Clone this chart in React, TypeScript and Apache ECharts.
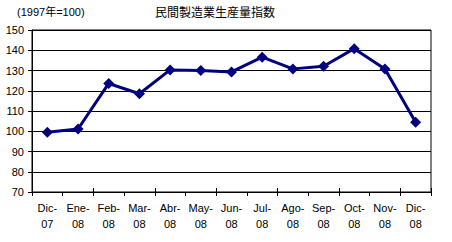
import React, { useEffect, useRef } from "react";
import * as echarts from "echarts";

const categories = ["Dic-\n07", "Ene-\n08", "Feb-\n08", "Mar-\n08", "Abr-\n08", "May-\n08", "Jun-\n08", "Jul-\n08", "Ago-\n08", "Sep-\n08", "Oct-\n08", "Nov-\n08", "Dic-\n08"];
const values = [99.5, 101.1, 123.6, 118.5, 130.3, 130.0, 129.3, 136.6, 130.8, 132.1, 140.8, 130.8, 104.4];
const yMin = 70;
const yMax = 150;
const yStep = 10;
const titleText = "民間製造業生産量指数";
const unitText = "(1997年=100)";

const FONT = "'Liberation Sans', Arial, 'Noto Sans CJK JP', sans-serif";

export default function App() {
  const ref = useRef<HTMLDivElement>(null);
  useEffect(() => {
    if (!ref.current) return;
    const chart = echarts.init(ref.current, undefined, { renderer: "svg" });
    chart.setOption({
      animation: false,
      backgroundColor: "#ffffff",
      textStyle: { fontFamily: FONT },
      grid: {
        left: 32,
        right: 21,
        top: 30,
        bottom: 50,
        show: true,
        borderColor: "#000000",
        borderWidth: 1,
        backgroundColor: "transparent",
      },
      graphic: [
        {
          type: "text",
          left: 17,
          top: 6,
          style: { text: unitText, fontSize: 11, fontFamily: FONT, fill: "#000" },
        },
        {
          type: "text",
          x: 215,
          y: 7,
          style: { text: titleText, fontSize: 12, fontFamily: FONT, fill: "#000", textAlign: "center" },
        },
      ],
      xAxis: [
        {
          type: "category",
          data: categories,
          boundaryGap: true,
          position: "bottom",
          axisLine: { show: true, lineStyle: { color: "#000", width: 1 } },
          axisTick: { show: true, length: 4, lineStyle: { color: "#000" } },
          axisLabel: { color: "#000", fontSize: 11, lineHeight: 16, margin: 8, interval: 0, fontFamily: FONT },
          splitLine: { show: false },
        },
        {
          type: "category",
          data: categories,
          boundaryGap: true,
          position: "bottom",
          axisLine: { show: false },
          axisTick: { show: true, inside: true, length: 4, lineStyle: { color: "#000" } },
          axisLabel: { show: false },
          splitLine: { show: false },
        },
      ],
      yAxis: {
        type: "value",
        min: yMin,
        max: yMax,
        interval: yStep,
        axisLine: { show: true, lineStyle: { color: "#000", width: 1 } },
        axisTick: { show: true, length: 4, lineStyle: { color: "#000" } },
        axisLabel: { color: "#000", fontSize: 11, margin: 8, fontFamily: FONT },
        splitLine: { show: true, lineStyle: { color: "#000", width: 1 } },
      },
      series: [
        {
          type: "line",
          data: values,
          xAxisIndex: 0,
          symbol: "diamond",
          symbolSize: 11,
          lineStyle: { color: "#000080", width: 3 },
          itemStyle: { color: "#000080" },
        },
      ],
    });
    return () => chart.dispose();
  }, []);
  return <div ref={ref} style={{ position: "fixed", left: 0, top: 0, width: 452, height: 242 }} />;
}
